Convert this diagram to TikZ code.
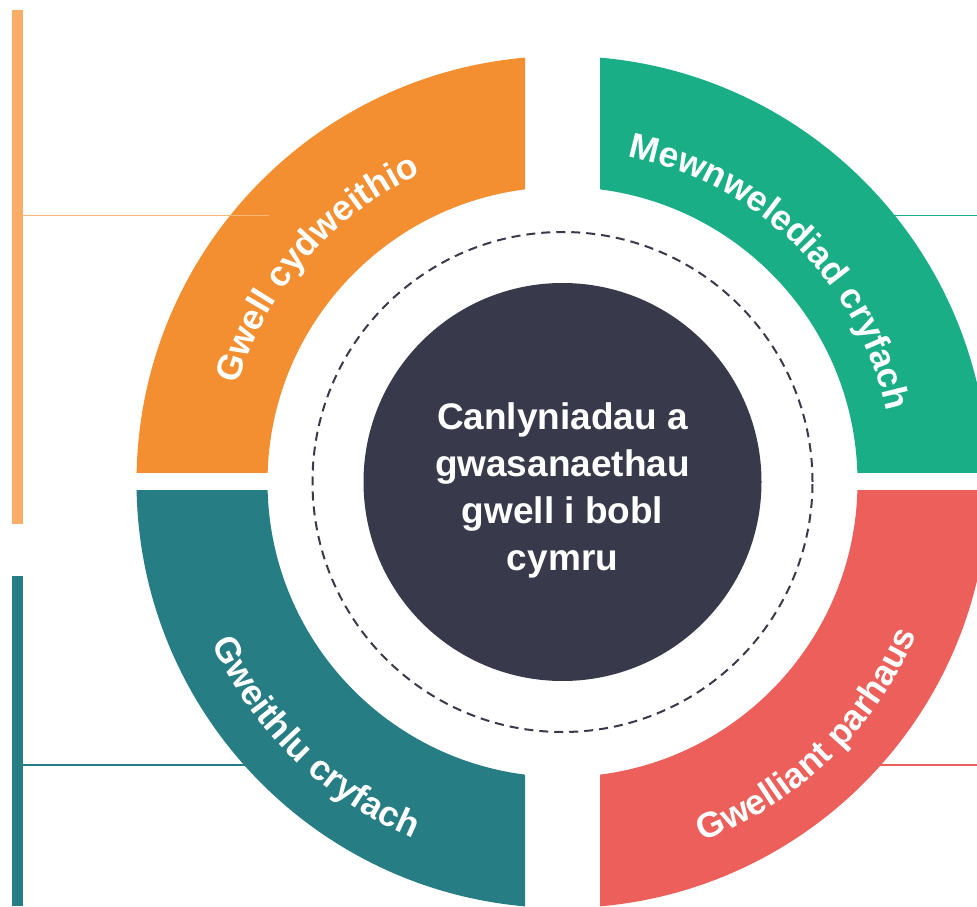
\documentclass[tikz,border=0pt]{standalone}
\usepackage{fontspec}
\setmainfont{Liberation Sans}
\usetikzlibrary{decorations.text}
\definecolor{segorange}{HTML}{F48F31}
\definecolor{barorange}{HTML}{F9AD67}
\definecolor{lineorange}{HTML}{F9B87A}
\definecolor{seggreen}{HTML}{19AE86}
\definecolor{segteal}{HTML}{267D83}
\definecolor{segred}{HTML}{EC5F5A}
\definecolor{hubdark}{HTML}{383A4C}
\newcommand\ringtext{\fontsize{35.5}{35.5}\selectfont\bfseries\color{white}}
\tikzset{
  ring/.style={even odd rule},
  guide/.style={line width=1.4pt},
  arclabel/.style={decorate, decoration={text along path, text align=center, text={|\ringtext|#1}}}
}
\begin{document}
\begin{tikzpicture}[x=1pt,y=1pt]
\useasboundingbox (0,0) rectangle (977,906);
\clip (0,0) rectangle (977,906);
\coordinate (C) at (562.5,424);
% side bars
\fill[barorange] (12,382) rectangle (23,896);
\fill[segteal] (12,0) rectangle (23,330);
% guide lines behind segments
\coordinate (tl0) at (23,141); \coordinate (tl1) at (320,141);
\coordinate (gl0) at (860,690.3); \coordinate (gl1) at (977,690.3);
\coordinate (rl0) at (860,141); \coordinate (rl1) at (977,141);
\draw[guide, segteal] (tl0) -- (tl1);
\draw[guide, seggreen] (gl0) -- (gl1);
\draw[guide, segred] (rl0) -- (rl1);
% segments
\begin{scope}
  \clip (0,433) rectangle (525,906);
  \fill[segorange, ring] (C) circle[radius=426] (C) circle[radius=295];
\end{scope}
\begin{scope}
  \clip (600,433) rectangle (977,906);
  \fill[seggreen, ring] (C) circle[radius=426] (C) circle[radius=295];
\end{scope}
\begin{scope}
  \clip (0,0) rectangle (525,415);
  \fill[segteal, ring] (C) circle[radius=426] (C) circle[radius=295];
\end{scope}
\begin{scope}
  \clip (600,0) rectangle (977,415);
  \fill[segred, ring] (C) circle[radius=426] (C) circle[radius=295];
\end{scope}
% orange guide line on top
\coordinate (ol0) at (23,690.3); \coordinate (ol1) at (269,690.3);
\draw[guide, lineorange] (ol0) -- (ol1);
% dashed circle
\draw[hubdark, line width=2pt, dash pattern=on 9pt off 6pt] (C) circle[radius=250];
% hub
\node[circle, fill=hubdark, minimum size=398pt, inner sep=0pt] (hub) at (C) {};
\node[text=white, align=center, inner sep=0pt,
      font=\fontsize{37}{47}\selectfont\bfseries] (hubtext) at ([yshift=-8pt]hub.center)
  {Canlyniadau a\\gwasanaethau\\gwell i bobl\\cymru};
% arc labels
\path[arclabel={Gwell cydweithio}] (C) ++(179:339) arc[start angle=179, end angle=99, radius=339];
\path[arclabel={Mewnwelediad cryfach}] (C) ++(85.5:332) arc[start angle=85.5, end angle=5.5, radius=332];
\path[arclabel={Gweithlu cryfach}] (C) ++(186:386) arc[start angle=186, end angle=266, radius=386];
\path[arclabel={Gwelliant parhaus}] (C) ++(274:386) arc[start angle=274, end angle=354, radius=386];
\end{tikzpicture}
\end{document}
